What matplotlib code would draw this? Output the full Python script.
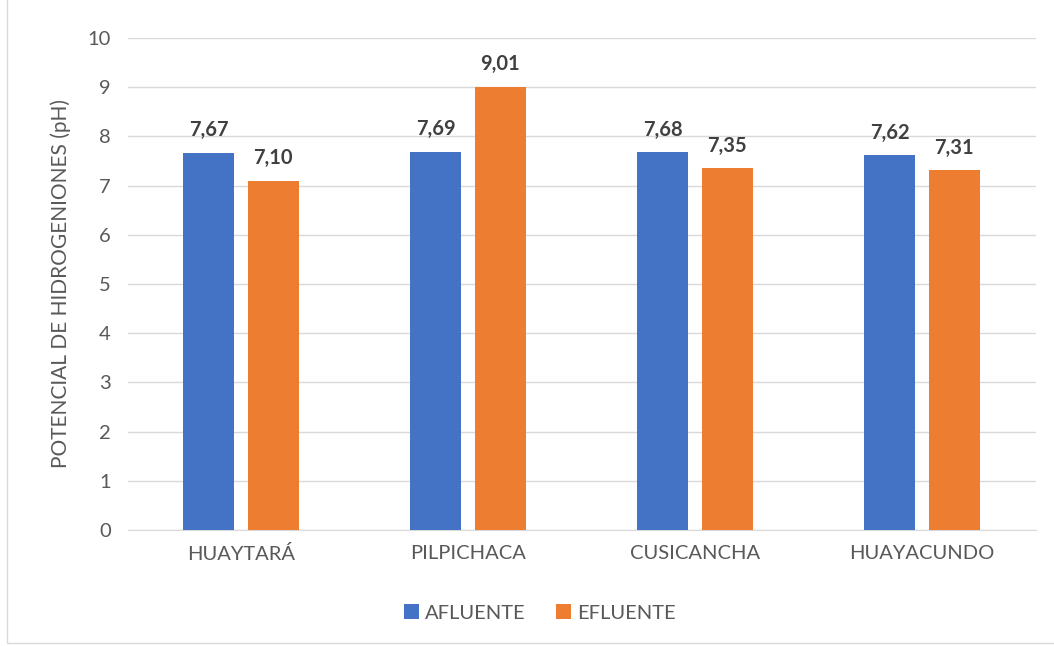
import matplotlib
matplotlib.use("Agg")
import matplotlib.pyplot as plt
import numpy as np
from matplotlib.patches import Rectangle

categories = ["HUAYTARÁ", "PILPICHACA", "CUSICANCHA", "HUAYACUNDO"]
afluente = [7.67, 7.69, 7.68, 7.62]
efluente = [7.10, 9.01, 7.35, 7.31]
series_names = ["AFLUENTE", "EFLUENTE"]
colors = ["#4472C4", "#ED7D31"]

plt.rcParams['font.family'] = ['Lato', 'DejaVu Sans']

fig = plt.figure(figsize=(10.54, 6.46), dpi=100)
ax = fig.add_axes([0.121, 0.1796, 0.8615, 0.7616])

x = np.arange(len(categories))
w = 0.225
off = 0.142
b1 = ax.bar(x - off, afluente, w, color=colors[0], label=series_names[0], zorder=3)
b2 = ax.bar(x + off, efluente, w, color=colors[1], label=series_names[1], zorder=3)

for bars, vals in ((b1, afluente), (b2, efluente)):
    for r, v in zip(bars, vals):
        ax.annotate(f"{v:.2f}".replace(".", ","), (r.get_x() + r.get_width() / 2, v),
                    xytext=(0, 9), textcoords="offset points", ha="center", va="bottom",
                    fontsize=14.5, fontweight="bold", color="#404040")

ax.set_xlim(-0.5, len(categories) - 0.5)
ax.set_ylim(0, 10)
ax.set_yticks(range(0, 11))
ax.set_xticks(x)
ax.set_xticklabels(categories)
ax.tick_params(axis="both", length=0, labelsize=14.5, colors="#595959")
ax.tick_params(axis="y", pad=12)
ax.tick_params(axis="x", pad=11)
ax.grid(axis="y", color="#D9D9D9", linewidth=1, zorder=0)
for s in ["top", "right", "left"]:
    ax.spines[s].set_visible(False)
ax.spines["bottom"].set_color("#D9D9D9")
ax.set_ylabel("POTENCIAL DE HIDROGENIONES (pH)", fontsize=15, color="#595959", labelpad=12)

fig.legend(loc="center", bbox_to_anchor=(0.512, 1 - 613 / 646), ncol=2, frameon=False,
           fontsize=14.5, labelcolor="#595959", handlelength=0.75, handleheight=0.75,
           columnspacing=1.5, handletextpad=0.3)

fig.patches.append(Rectangle((7 / 1054, 0.005), 1.2, 1.2, transform=fig.transFigure,
                             fill=False, edgecolor="#D9D9D9", linewidth=1))

fig.savefig("out.png", dpi=100)
